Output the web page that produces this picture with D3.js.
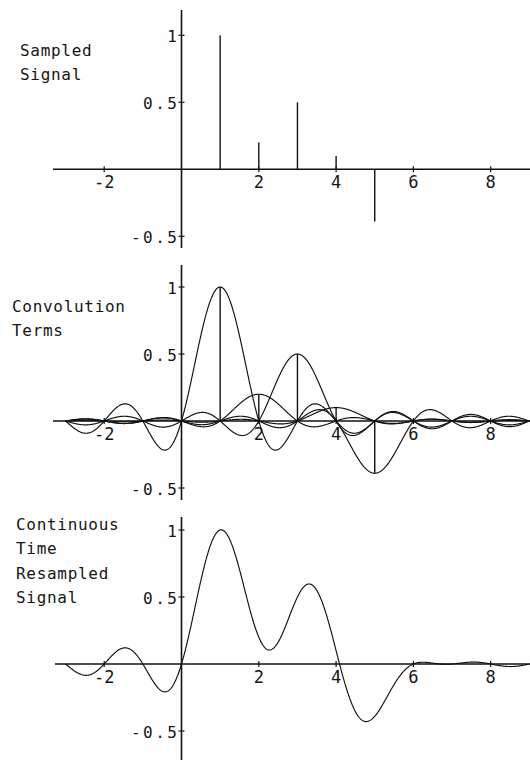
<!DOCTYPE html>
<html>
<head>
<meta charset="utf-8">
<script src="https://cdn.jsdelivr.net/npm/d3@7"></script>
<style>
  html, body { margin: 0; padding: 0; background: #fff; }
  svg { display: block; }
  text { font-family: "DejaVu Sans Mono", "Liberation Mono", monospace; font-size: 16px; fill: #151515; }
</style>
</head>
<body>
<svg id="chart" width="530" height="760"></svg>
<script>
// Sample instants and sample values of the discrete signal
const sampleTimes = [1, 2, 3, 4, 5];
const sampleValues = [1, 0.2, 0.5, 0.1, -0.39];

// Axis tick labels
const xTickValues = [-2, 2, 4, 6, 8];
const xTickLabels = ["-2", "2", "4", "6", "8"];
const yTickValues = [-0.5, 0.5, 1];
const yTickLabels = ["-0.5", "0.5", "1"];

// Panel titles
const panelTitles = [
  ["Sampled", "Signal"],
  ["Convolution", "Terms"],
  ["Continuous", "Time", "Resampled", "Signal"]
];

// Continuous time span over which the interpolation is evaluated
const tStart = -3, tEnd = 9, tStep = 0.01;

const svg = d3.select("#chart");

const x = d3.scaleLinear().domain([0, 8]).range([181.5, 490.7]);

function sinc(t) {
  if (Math.abs(t) < 1e-9) return 1;
  return Math.sin(Math.PI * t) / (Math.PI * t);
}

const tGrid = d3.range(tStart, tEnd + tStep / 2, tStep);

// One panel per stage: layout of each panel
const panels = [
  { zeroY: 169.3, axisTop: 10, axisBottom: 248, axisLeft: 53, titleX: 20, titleY: 55.5 },
  { zeroY: 421, axisTop: 265, axisBottom: 500, axisLeft: 53, titleX: 12, titleY: 311.5 },
  { zeroY: 664, axisTop: 517, axisBottom: 760, axisLeft: 55, titleX: 16, titleY: 530 }
];

panels.forEach((p, i) => {
  const g = svg.append("g");
  const y = d3.scaleLinear().domain([0, 1]).range([p.zeroY, p.zeroY - 134]);

  const line = d3.line().x(d => x(d[0])).y(d => y(d[1])).curve(d3.curveLinear);

  // Axes
  g.append("line")
    .attr("x1", p.axisLeft).attr("x2", 530)
    .attr("y1", y(0)).attr("y2", y(0))
    .attr("stroke", "#111").attr("stroke-width", 1.6);
  g.append("line")
    .attr("x1", x(0)).attr("x2", x(0))
    .attr("y1", p.axisTop).attr("y2", p.axisBottom)
    .attr("stroke", "#111").attr("stroke-width", 1.6);

  // X ticks and labels
  g.selectAll(".xt").data(xTickValues).enter().append("line")
    .attr("x1", d => x(d)).attr("x2", d => x(d))
    .attr("y1", y(0) - 3).attr("y2", y(0) + 3)
    .attr("stroke", "#111").attr("stroke-width", 1.2);
  g.selectAll(".xl").data(xTickValues).enter().append("text")
    .attr("x", d => x(d)).attr("y", y(0) + 19)
    .attr("text-anchor", "middle")
    .style("font-size", "17px")
    .text((d, k) => xTickLabels[k]);

  // Y ticks and labels
  g.selectAll(".yt").data(yTickValues).enter().append("line")
    .attr("x1", x(0) - 3).attr("x2", x(0) + 3)
    .attr("y1", d => y(d)).attr("y2", d => y(d))
    .attr("stroke", "#111").attr("stroke-width", 1.2);
  g.selectAll(".yl").data(yTickValues).enter().append("text")
    .attr("x", x(0) - 2).attr("y", d => y(d) + 7)
    .attr("text-anchor", "end")
    .style("letter-spacing", "2.5px")
    .text((d, k) => yTickLabels[k]);

  // Title
  const title = g.append("text").attr("x", p.titleX).attr("y", p.titleY)
    .style("letter-spacing", "0.7px");
  panelTitles[i].forEach((s, k) => {
    title.append("tspan").attr("x", p.titleX).attr("dy", k === 0 ? 0 : 24.3).text(s);
  });

  const stems = () => {
    g.selectAll(".stem" + i).data(sampleTimes).enter().append("line")
      .attr("x1", d => x(d)).attr("x2", d => x(d))
      .attr("y1", y(0)).attr("y2", (d, k) => y(sampleValues[k]))
      .attr("stroke", "#111").attr("stroke-width", 1.4);
  };

  if (i === 0) {
    stems();
  } else if (i === 1) {
    // Each sample weights a shifted sinc kernel
    sampleTimes.forEach((n, k) => {
      const pts = tGrid.map(t => [t, sampleValues[k] * sinc(t - n)]);
      g.append("path").attr("d", line(pts))
        .attr("fill", "none").attr("stroke", "#111").attr("stroke-width", 1.15);
    });
    stems();
  } else {
    // Sum of all weighted kernels
    const pts = tGrid.map(t => [t, d3.sum(sampleTimes, (n, k) => sampleValues[k] * sinc(t - n))]);
    g.append("path").attr("d", line(pts))
      .attr("fill", "none").attr("stroke", "#111").attr("stroke-width", 1.15);
  }
});
</script>
</body>
</html>
